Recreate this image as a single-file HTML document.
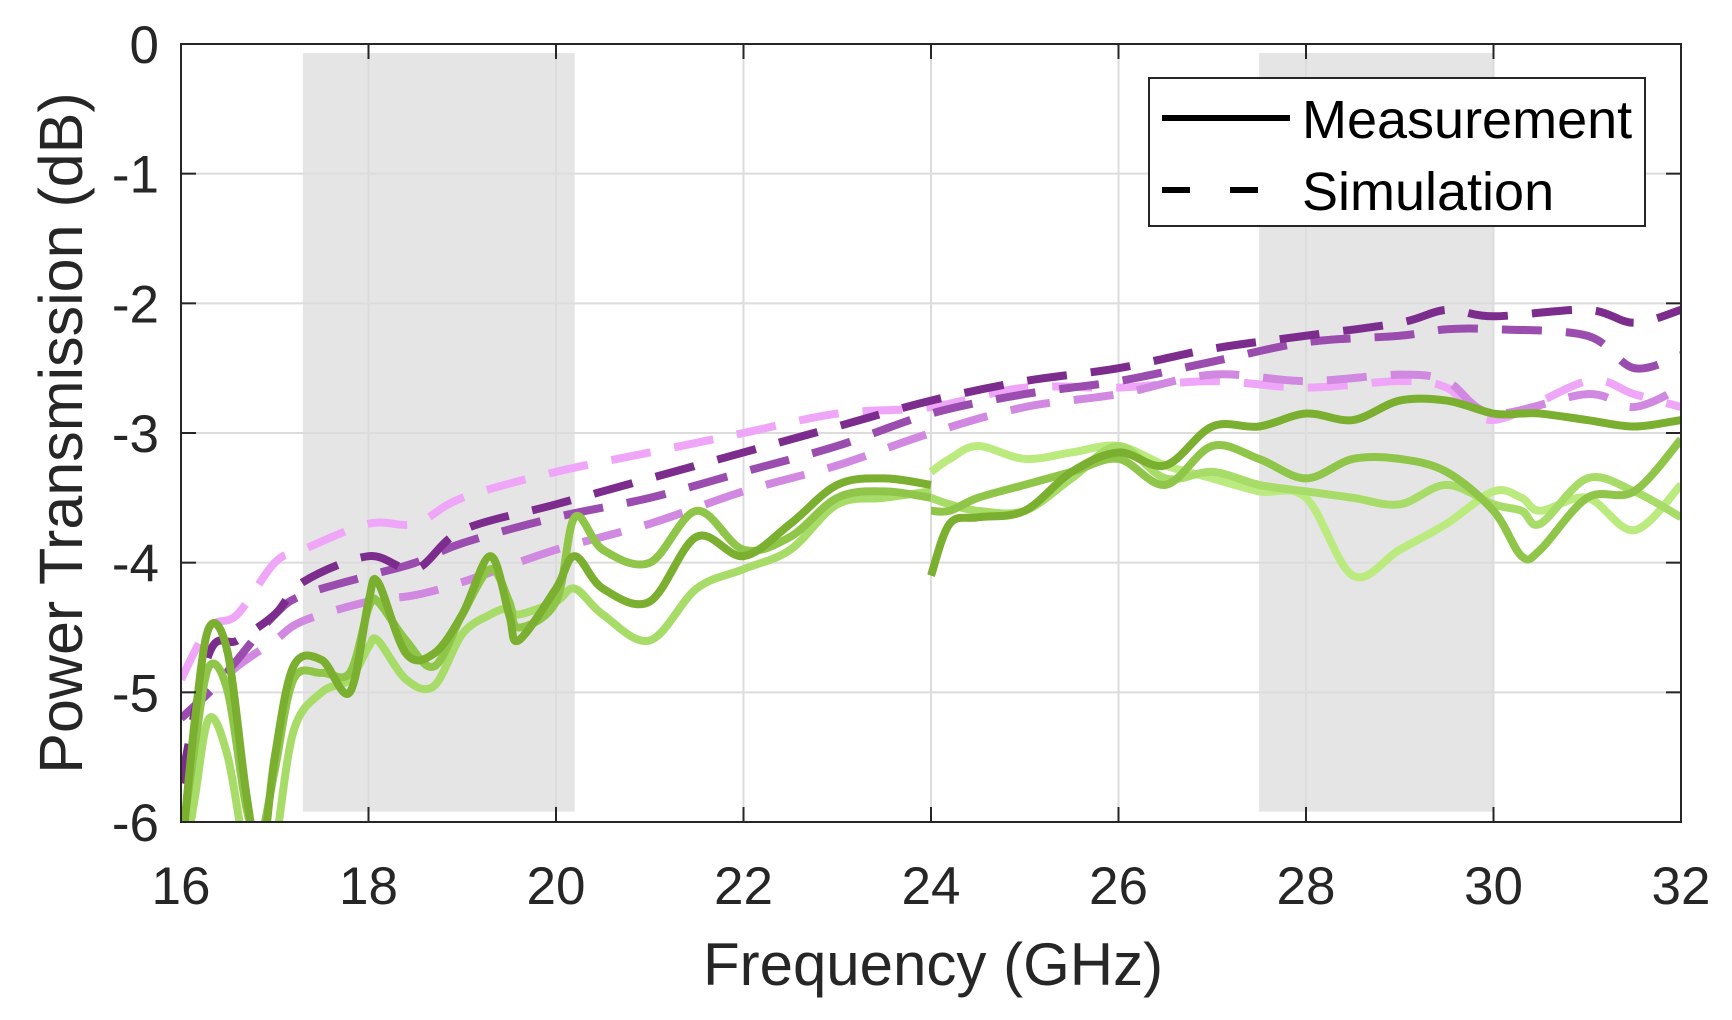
<!DOCTYPE html>
<html><head><meta charset="utf-8">
<style>
html,body{margin:0;padding:0;background:#fff;}
svg{display:block;font-family:"Liberation Sans",Arial,sans-serif;}
</style></head>
<body>
<svg id="chart" width="1732" height="1020" viewBox="0 0 1732 1020" xmlns="http://www.w3.org/2000/svg">
<defs><clipPath id="plotclip"><rect x="181" y="44" width="1500" height="778"/></clipPath></defs>
<rect x="0" y="0" width="1732" height="1020" fill="#fff"/>
<g id="shade"></g>
<g id="grid"></g>
<g id="series" clip-path="url(#plotclip)"></g>
<rect x="181" y="44" width="1500" height="778" fill="none" stroke="#262626" stroke-width="2"/>
<g id="ticks"></g>
<text x="933" y="985" text-anchor="middle" font-size="60" fill="#262626">Frequency (GHz)</text>
<text transform="translate(82,433) rotate(-90)" text-anchor="middle" font-size="61" fill="#262626">Power Transmission (dB)</text>
<g>
<rect x="1149" y="78" width="496" height="148" fill="#fff" stroke="#262626" stroke-width="2"/>
<line x1="1162" y1="118" x2="1290" y2="118" stroke="#000" stroke-width="6"/>
<text x="1302" y="138" font-size="54" fill="#000">Measurement</text>
<line x1="1162" y1="190" x2="1290" y2="190" stroke="#000" stroke-width="6" stroke-dasharray="28,40"/>
<text x="1302" y="210" font-size="54" fill="#000">Simulation</text>
</g>
</svg>
<script>
const xTicks=[16,18,20,22,24,26,28,30,32];
const yTicks=[0,-1,-2,-3,-4,-5,-6];
const bands=[[17.3,20.2],[27.5,30]];
const simFreq=[16,16.3,16.6,17,17.3,18,18.5,19,20,21,22,23,24,25,26,27,28,29,29.5,30,31,31.5,32];
const sim1=[-5.7,-4.7,-4.6,-4.4,-4.15,-3.95,-4.05,-3.75,-3.55,-3.35,-3.15,-2.95,-2.75,-2.6,-2.5,-2.35,-2.25,-2.15,-2.05,-2.1,-2.05,-2.15,-2.05];
const sim2=[-5.2,-5.0,-4.75,-4.4,-4.25,-4.1,-4.0,-3.85,-3.65,-3.5,-3.3,-3.1,-2.85,-2.7,-2.6,-2.45,-2.3,-2.25,-2.2,-2.2,-2.25,-2.5,-2.4];
const sim3=[-5.2,-5.0,-4.8,-4.6,-4.45,-4.3,-4.25,-4.15,-3.9,-3.7,-3.45,-3.25,-3.0,-2.8,-2.7,-2.55,-2.6,-2.55,-2.6,-2.85,-2.7,-2.8,-2.65];
const sim4=[-4.9,-4.5,-4.4,-4.0,-3.9,-3.7,-3.7,-3.5,-3.3,-3.15,-3.0,-2.85,-2.8,-2.65,-2.65,-2.6,-2.65,-2.6,-2.65,-2.9,-2.6,-2.7,-2.8];
const mFreqA=[16,16.15,16.3,16.5,16.7,16.85,17,17.2,17.5,17.8,18,18.1,18.4,18.7,19,19.3,19.5,19.6,20,20.2,20.5,21,21.5,22,22.5,23,23.5,24];
const meas1A=[-6.3,-5.2,-4.5,-4.7,-5.8,-6.3,-5.5,-4.8,-4.75,-5.0,-4.3,-4.15,-4.7,-4.7,-4.4,-3.95,-4.4,-4.6,-4.2,-3.95,-4.2,-4.3,-3.8,-3.95,-3.7,-3.4,-3.35,-3.4];
const meas2A=[-6.2,-5.4,-4.8,-5.0,-5.9,-6.1,-5.6,-4.9,-4.85,-4.85,-4.35,-4.3,-4.6,-4.8,-4.4,-4.05,-4.3,-4.5,-4.3,-3.65,-3.9,-4.0,-3.6,-3.9,-3.8,-3.5,-3.45,-3.5];
const meas3A=[-6.5,-5.8,-5.2,-5.5,-6.3,-6.5,-6.2,-5.3,-5.0,-4.9,-4.65,-4.6,-4.9,-4.95,-4.55,-4.4,-4.35,-4.4,-4.3,-4.2,-4.4,-4.6,-4.2,-4.05,-3.9,-3.55,-3.5,-3.45];
const mFreqB=[24,24.2,24.5,25,25.5,26,26.5,27,27.5,28,28.5,29,29.5,30,30.3,30.5,31,31.5,32];
const meas1B=[-4.1,-3.7,-3.65,-3.6,-3.3,-3.15,-3.25,-2.95,-2.95,-2.85,-2.9,-2.75,-2.75,-2.85,-2.85,-2.85,-2.9,-2.95,-2.9];
const meas2B=[-3.6,-3.6,-3.5,-3.4,-3.3,-3.2,-3.4,-3.1,-3.2,-3.35,-3.2,-3.2,-3.3,-3.6,-3.95,-3.9,-3.5,-3.45,-3.05];
const meas3B=[-3.5,-3.55,-3.6,-3.6,-3.35,-3.1,-3.35,-3.3,-3.4,-3.45,-3.5,-3.55,-3.4,-3.55,-3.6,-3.7,-3.35,-3.45,-3.65];
const meas4B=[-3.3,-3.2,-3.1,-3.2,-3.15,-3.1,-3.25,-3.35,-3.45,-3.5,-4.1,-3.9,-3.7,-3.45,-3.5,-3.6,-3.5,-3.75,-3.4];

const NS='http://www.w3.org/2000/svg';
const X0=181,X1=1681,Y0=44,Y1=822;
function xs(v){return X0+(v-16)/16*(X1-X0);}
function ys(v){return Y0+(0-v)/6*(Y1-Y0);}
function mk(tag,attrs,parent){const e=document.createElementNS(NS,tag);for(const k in attrs)e.setAttribute(k,attrs[k]);parent.appendChild(e);return e;}
const shade=document.getElementById('shade'),grid=document.getElementById('grid'),ticks=document.getElementById('ticks'),ser=document.getElementById('series');
bands.forEach(b=>{const r=mk('rect',{x:xs(b[0]),y:ys(-0.07),width:xs(b[1])-xs(b[0]),height:ys(-5.92)-ys(-0.07),fill:'#e5e5e5'},shade);

});
xTicks.forEach(t=>{const l=mk('line',{x1:xs(t),x2:xs(t),y1:Y0,y2:Y1,stroke:'#dcdcdc','stroke-width':2},grid);


mk('line',{x1:xs(t),x2:xs(t),y1:Y1,y2:Y1-15,stroke:'#262626','stroke-width':2},ticks);
mk('line',{x1:xs(t),x2:xs(t),y1:Y0,y2:Y0+15,stroke:'#262626','stroke-width':2},ticks);
const tx=mk('text',{x:xs(t),y:904,'text-anchor':'middle','font-size':53,fill:'#262626'},ticks);tx.textContent=t;

});
yTicks.forEach(t=>{const l=mk('line',{x1:X0,x2:X1,y1:ys(t),y2:ys(t),stroke:'#dcdcdc','stroke-width':2},grid);


mk('line',{x1:X0,x2:X0+15,y1:ys(t),y2:ys(t),stroke:'#262626','stroke-width':2},ticks);
mk('line',{x1:X1,x2:X1-15,y1:ys(t),y2:ys(t),stroke:'#262626','stroke-width':2},ticks);
const tx=mk('text',{x:159,y:ys(t)+19,'text-anchor':'end','font-size':53,fill:'#262626'},ticks);tx.textContent=String(t);

});
function pathD(fx,fy){const p=fx.map((f,i)=>[xs(f),ys(fy[i])]);let d='M'+p[0][0]+','+p[0][1];
for(let i=0;i<p.length-1;i++){const a=p[Math.max(i-1,0)],b=p[i],c=p[i+1],e=p[Math.min(i+2,p.length-1)];
const c1=[b[0]+(c[0]-a[0])/6,b[1]+(c[1]-a[1])/6],c2=[c[0]-(e[0]-b[0])/6,c[1]-(e[1]-b[1])/6];
d+=' C'+c1[0]+','+c1[1]+' '+c2[0]+','+c2[1]+' '+c[0]+','+c[1];}return d;}
function draw(fx,fy,color,dash,name){const p=mk('path',{d:pathD(fx,fy),fill:'none',stroke:color,'stroke-width':8,'stroke-linejoin':'round'},ser);
if(dash)p.setAttribute('stroke-dasharray','40,24');

}
draw(simFreq,sim4,'#efa6f8',true,'simulation-4');
draw(simFreq,sim3,'#d088e0',true,'simulation-3');
draw(simFreq,sim2,'#9a4dae',true,'simulation-2');
draw(simFreq,sim1,'#7b2c8c',true,'simulation-1');
draw(mFreqB,meas4B,'#bbeb7e',false,'measurement-4-high');
draw(mFreqA,meas3A,'#a8dc68',false,'measurement-3-low');
draw(mFreqB,meas3B,'#a8dc68',false,'measurement-3-high');
draw(mFreqA,meas2A,'#8fc64a',false,'measurement-2-low');
draw(mFreqB,meas2B,'#8fc64a',false,'measurement-2-high');
draw(mFreqA,meas1A,'#7aaf30',false,'measurement-1-low');
draw(mFreqB,meas1B,'#7aaf30',false,'measurement-1-high');
</script>
</body></html>
